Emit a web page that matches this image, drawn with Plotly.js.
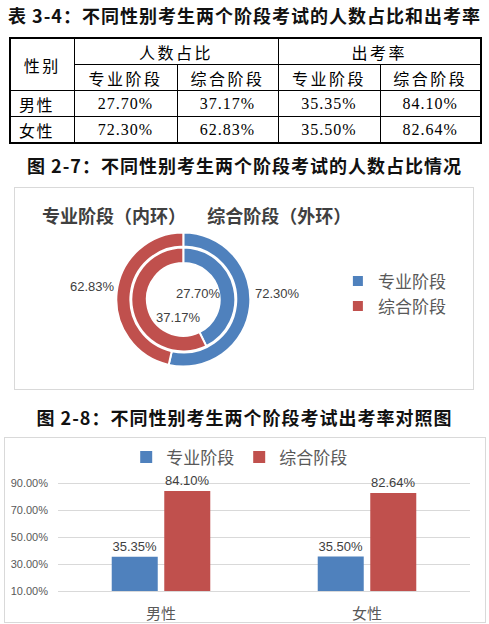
<!DOCTYPE html>
<html>
<head>
<meta charset="utf-8">
<script src="https://cdn.plot.ly/plotly-3.0.1.min.js"></script>
<style>
  body { margin: 0; width: 489px; height: 624px; position: relative; background: #fff; overflow: hidden; }
  .cap { position: absolute; left: 0; width: 489px; text-align: center; white-space: nowrap;
         font-family: "Noto Sans CJK SC", sans-serif; font-weight: 700; font-size: 18px;
         letter-spacing: 1px; line-height: 20px; color: #111; }
  #tbl { position: absolute; left: 9px; top: 37px; width: 471px; border-collapse: collapse;
         table-layout: fixed; border: 2px solid #000; }
  #tbl td, #tbl th { border: 1px solid #000; padding: 0; height: 25px; text-align: center;
         font-weight: 400; color: #000; white-space: nowrap; }
  #tbl th { font-family: "Noto Sans CJK SC", sans-serif; font-size: 16px; letter-spacing: 2.5px; }
  #tbl td.g { font-family: "Noto Sans CJK SC", sans-serif; font-size: 16px; letter-spacing: 1.5px;
         text-align: left; padding-left: 8px; }
  #tbl td.n { font-family: "Liberation Serif", serif; font-size: 16px; letter-spacing: 1px; }
  .box { position: absolute; border: 1px solid #d9d9d9; }
  .box > div { position: absolute; left: 0; top: 0; }
</style>
</head>
<body>
<div class="cap" style="top:5px">表 3-4：不同性别考生两个阶段考试的人数占比和出考率</div>
<table id="tbl">
  <colgroup><col style="width:64px"><col style="width:103px"><col style="width:101px"><col style="width:102px"><col style="width:101px"></colgroup>
  <tbody id="tbody"></tbody>
</table>
<div class="cap" style="top:155px">图 2-7：不同性别考生两个阶段考试的人数占比情况</div>
<div class="box" style="left:14px;top:187px;width:458px;height:201px"><div id="donut"></div></div>
<div class="cap" style="top:407px">图 2-8：不同性别考生两个阶段考试出考率对照图</div>
<div class="box" style="left:4px;top:437px;width:480px;height:184px"><div id="bars"></div></div>
<script>
const genders = ["男性", "女性"];
const stages = ["专业阶段", "综合阶段"];
const groupHeads = ["人数占比", "出考率"];
const shareZhuanye = [27.70, 72.30];   // 人数占比 专业阶段
const shareZonghe = [37.17, 62.83];    // 人数占比 综合阶段
const rateZhuanye = [35.35, 35.50];    // 出考率 专业阶段
const rateZonghe = [84.10, 82.64];     // 出考率 综合阶段
const yTicks = [10, 30, 50, 70, 90];

const blue = "#4f81bd";
const red = "#c0504d";

function pct(v) {
  return v.toFixed(2) + "%";
}

// table
let rows = '<tr><th rowspan="2">性别</th>' +
  groupHeads.map((h) => `<th colspan="2">${h}</th>`).join("") + "</tr>";
rows += "<tr>" + stages.concat(stages).map((s) => `<th>${s}</th>`).join("") + "</tr>";
genders.forEach((g, i) => {
  const vals = [shareZhuanye[i], shareZonghe[i], rateZhuanye[i], rateZonghe[i]];
  rows += `<tr><td class="g">${g}</td>` +
    vals.map((v) => `<td class="n">${pct(v)}</td>`).join("") + "</tr>";
});
document.getElementById("tbody").innerHTML = rows;

// donut: inner ring = 男性, outer ring = 女性
const maleRing = [shareZhuanye[0], shareZonghe[0]];
const femaleRing = [shareZhuanye[1], shareZonghe[1]];

function ring(values, hole, domain) {
  return {
    type: "pie",
    labels: stages,
    values: values,
    hole: hole,
    sort: false,
    direction: "clockwise",
    rotation: 0,
    domain: domain,
    marker: { colors: [blue, red], line: { color: "#fff", width: 2 } },
    textinfo: "none",
    hoverinfo: "label+value",
  };
}

const donutData = [
  ring(femaleRing, 0.79, { x: [0.2212, 0.5138], y: [0.1119, 0.7786] }),
  ring(maleRing, 0.70, { x: [0.2539, 0.4810], y: [0.1866, 0.7040] }),
];

// where Excel put the ring labels (paper coords)
const labelSpots = [
  [0.4007, 0.4776], // 男性 专业
  [0.357, 0.3582],  // 男性 综合
  [0.5731, 0.4776], // 女性 专业
  [0.1693, 0.5075], // 女性 综合
];
const labelFont = { family: "Liberation Sans, sans-serif", size: 13, color: "#404040" };
const ringLabels = maleRing.concat(femaleRing).map((v, i) => ({
  xref: "paper", yref: "paper", x: labelSpots[i][0], y: labelSpots[i][1],
  xanchor: "center", yanchor: "middle", text: pct(v), showarrow: false, font: labelFont,
}));

const donutLayout = {
  width: 458,
  height: 201,
  margin: { l: 0, r: 0, t: 0, b: 0, autoexpand: false },
  paper_bgcolor: "#fff",
  showlegend: true,
  legend: {
    x: 0.705, y: 0.625, xanchor: "left", yanchor: "top",
    font: { family: "Noto Sans CJK SC, sans-serif", size: 17, color: "#595959" },
  },
  annotations: [
    {
      xref: "paper", yref: "paper", x: 0.0546, y: 0.866, xanchor: "left", yanchor: "middle",
      text: "<b>专业阶段（内环）　   综合阶段（外环）</b>",
      showarrow: false,
      font: { family: "Noto Sans CJK SC, sans-serif", size: 18, color: "#404040" },
    },
  ].concat(ringLabels),
};

Plotly.newPlot("donut", donutData, donutLayout, { displayModeBar: false });

// grouped bars of 出考率
const barBase = {
  type: "bar",
  x: genders,
  textposition: "outside",
  texttemplate: "%{y:.2f}%",
  constraintext: "none",
  textfont: { family: "Liberation Sans, sans-serif", size: 13, color: "#404040" },
  hovertemplate: "%{x}: %{y:.2f}%<extra>%{fullData.name}</extra>",
};
const barData = [
  Object.assign({}, barBase, { name: stages[0], y: rateZhuanye, marker: { color: blue } }),
  Object.assign({}, barBase, { name: stages[1], y: rateZonghe, marker: { color: red } }),
];

const barLayout = {
  width: 480,
  height: 184,
  margin: { l: 53, r: 15, t: 29, b: 31, autoexpand: false },
  paper_bgcolor: "#fff",
  plot_bgcolor: "#fff",
  barmode: "group",
  bargap: 0.49,
  bargroupgap: 0.124,
  showlegend: true,
  legend: {
    orientation: "h", xref: "container", yref: "container",
    x: 0.2525, y: 0.894, xanchor: "left", yanchor: "middle",
    font: { family: "Noto Sans CJK SC, sans-serif", size: 17, color: "#595959" },
  },
  xaxis: {
    type: "category",
    showline: true, linecolor: "#d9d9d9", linewidth: 1,
    ticks: "",
    ticklabelstandoff: 9,
    tickfont: { family: "Noto Sans CJK SC, sans-serif", size: 15, color: "#595959" },
  },
  yaxis: {
    range: [10, 101.85],
    tickvals: yTicks,
    ticktext: yTicks.map(pct),
    showgrid: true, gridcolor: "#d9d9d9", gridwidth: 1,
    zeroline: false,
    ticks: "",
    ticklabelstandoff: 9,
    tickfont: { family: "Liberation Sans, sans-serif", size: 11, color: "#595959" },
  },
};

Plotly.newPlot("bars", barData, barLayout, { displayModeBar: false });
</script>
</body>
</html>
